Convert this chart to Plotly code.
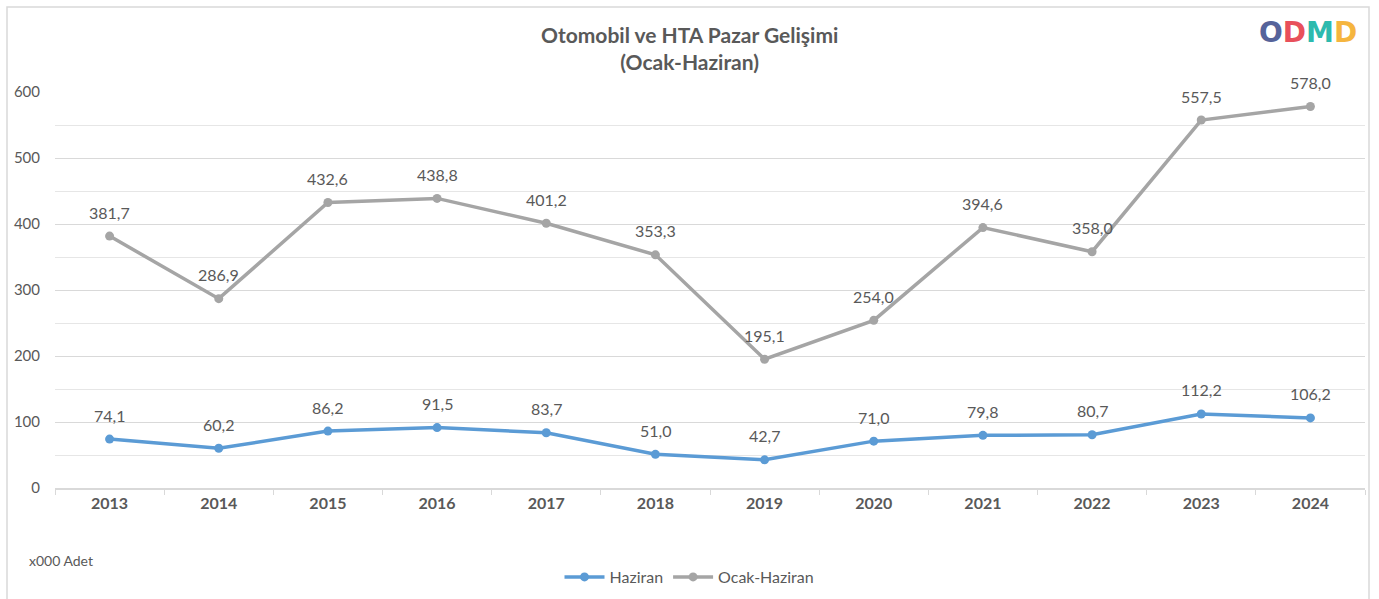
import plotly.graph_objects as go

years = ["2013", "2014", "2015", "2016", "2017", "2018", "2019", "2020", "2021", "2022", "2023", "2024"]
haziran = [74.1, 60.2, 86.2, 91.5, 83.7, 51.0, 42.7, 71.0, 79.8, 80.7, 112.2, 106.2]
ocak_haziran = [381.7, 286.9, 432.6, 438.8, 401.2, 353.3, 195.1, 254.0, 394.6, 358.0, 557.5, 578.0]

FONT = "Lato, 'DejaVu Sans', sans-serif"
TXT = "#595959"

fig = go.Figure()
for name, vals, col in [("Haziran", haziran, "#5B9BD5"), ("Ocak-Haziran", ocak_haziran, "#A5A5A5")]:
    fig.add_trace(go.Scatter(
        x=years, y=vals, name=name, mode="lines+markers",
        line=dict(color=col, width=3.5),
        marker=dict(color=col, size=9),
        cliponaxis=False,
    ))
    for i, v in enumerate(vals):
        fig.add_annotation(x=i, y=v, xref="x", yref="y", yshift=24,
                           text=f"{v:.1f}".replace(".", ","),
                           showarrow=False, xanchor="center", yanchor="middle",
                           font=dict(family=FONT, size=16, color=TXT))

fig.update_layout(
    width=1379, height=599,
    margin=dict(l=55, r=14, t=92, b=111),
    paper_bgcolor="white", plot_bgcolor="white",
    font=dict(family=FONT, color=TXT),
    showlegend=True,
    legend=dict(orientation="h", xref="container", yref="container",
                x=0.5, xanchor="center", y=(599 - 577) / 599, yanchor="middle",
                font=dict(family=FONT, size=16, color=TXT), itemwidth=40),
    xaxis=dict(type="category", range=[-0.5, 11.5], showgrid=False, automargin=False,
               showline=True, linecolor="#D9D9D9", linewidth=1.5,
               ticks="outside", tickson="boundaries", ticklen=5, tickcolor="#D9D9D9",
               tickfont=dict(family=FONT, size=16, color=TXT, weight="bold")),
    yaxis=dict(range=[0, 600], dtick=100, showgrid=True, gridcolor="#D9D9D9", gridwidth=1,
               minor=dict(dtick=50, showgrid=True, gridcolor="#E6E6E6", gridwidth=1),
               zeroline=False, showline=False, ticks="", ticklabelstandoff=14, automargin=False,
               tickfont=dict(family=FONT, size=15, color=TXT)),
)

fig.add_annotation(xref="paper", yref="paper", x=0.4847, y=1.11, xanchor="center", yanchor="middle",
                   text="<b>Otomobil ve HTA Pazar Gelişimi<br>(Ocak-Haziran)</b>", showarrow=False,
                   font=dict(family=FONT, size=21, color=TXT))
fig.add_annotation(xref="paper", yref="paper", x=-0.0214, y=-0.184, xanchor="left", yanchor="middle",
                   text="x000 Adet", showarrow=False, font=dict(family=FONT, size=14, color=TXT))

# logo
logo = "".join(f"<span style='color:{c}'>{ch}</span>" for ch, c in
               [("O", "#56639A"), ("D", "#E8505B"), ("M", "#2DBAAE"), ("D", "#F5B53F")])
fig.add_annotation(xref="paper", yref="paper", x=(1308 - 55) / 1310, y=(488 - 33) / 396,
                   xanchor="center", yanchor="middle", text=f"<b>{logo}</b>", showarrow=False,
                   font=dict(family="'DejaVu Sans', sans-serif", size=28))

# border
fig.add_shape(type="rect", xref="paper", yref="paper",
              x0=(7 - 55) / 1310, x1=(1369 - 55) / 1310, y0=(488 - 620) / 396, y1=(488 - 7) / 396,
              line=dict(color="#D9D9D9", width=1.5), layer="below")

fig.write_html("out.html", config={"displayModeBar": False},
               post_script="document.body.style.margin='0';document.body.style.overflow='hidden';")
